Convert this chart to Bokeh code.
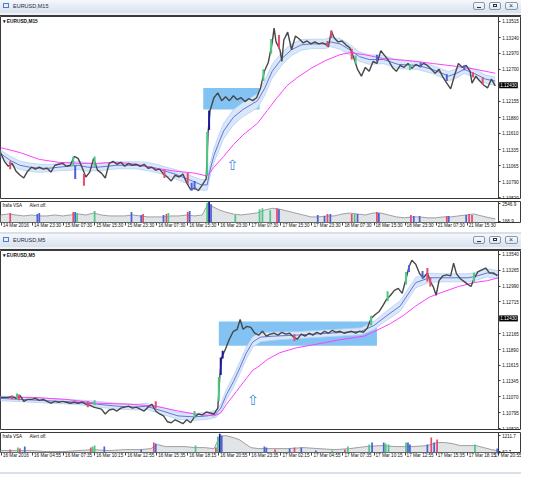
import numpy as np
from bokeh.plotting import figure
from bokeh.models import (ColumnDataSource, Range1d, FixedTicker, PrintfTickFormatter,
                          Label, Div, LinearAxis, CustomJSTickFormatter)
from bokeh.layouts import column
from bokeh.embed import file_html
from bokeh.resources import INLINE
from bokeh.core.properties import value

FONT = "Liberation Sans"
W = 521
XEND = 537      # bar units covered by the full pane width (price axis sits at bar 513)
AXIS_AT = 513
FS = "4.6px"

# ================= TOP CHART: EURUSD,M15 =================
top_x = [0,4,8,12,16,20,24,28,32,36,40,44,48,52,56,60,64,68,72,76,80,84,88,92,96,100,104,108,112,116,
         120,124,128,132,136,140,144,148,152,156,160,164,168,172,176,180,184,188,192,196,200,204,208,212,
         214,216,220,224,228,232,236,240,244,248,252,256,260,264,268,272,276,280,282,284,288,290,292,
         296,300,304,308,312,316,320,324,328,332,336,338,341,344,348,352,356,360,364,368,372,376,380,
         384,388,392,396,400,404,408,412,416,420,424,428,432,436,440,444,448,452,456,460,464,468,472,
         476,480,484,486,490,494,498,502,506,510]
top_close = [1.11285,1.11136,1.11052,1.11102,1.10969,1.10903,1.10853,1.10969,1.11036,1.11003,
             1.11036,1.11003,1.11019,1.10953,1.11069,1.11086,1.11102,1.11052,1.11069,1.11219,
             1.11186,1.11036,1.10869,1.10953,1.11186,1.10986,1.10936,1.10853,1.11102,1.11136,
             1.11086,1.11119,1.11052,1.11102,1.11069,1.11086,1.11052,1.11086,1.11019,1.11036,
             1.10986,1.11003,1.10919,1.10869,1.10803,1.10903,1.10869,1.10919,1.10770,1.10653,
             1.10686,1.10636,1.10736,1.10836,
             1.11635,1.12001,
             1.12217,1.12300,1.12167,1.12234,1.12167,1.12251,1.12184,1.12217,1.12151,1.12201,
             1.12167,1.12217,1.12384,1.12667,1.12816,1.13149,
             1.13399,1.13166,1.13033,1.12833,1.13199,
             1.13332,1.13033,1.13266,1.13216,1.13149,1.13182,1.13132,1.13166,1.13132,1.13149,1.13116,
             1.13083,1.13349,
             1.13232,1.13166,1.13182,1.13116,1.13066,1.12900,1.12700,1.12583,1.12733,1.12667,
             1.12833,1.12800,1.13016,1.12933,1.12850,1.12733,1.12667,1.12766,1.12733,1.12800,
             1.12716,1.12783,1.12750,1.12800,1.12766,1.12700,1.12633,1.12700,1.12567,1.12467,
             1.12367,1.12600,1.12800,1.12733,1.12766,1.12667,
             1.12467,1.12583,1.12500,1.12434,1.12384,1.12533,1.12417]

top_cx = [10,75,77,86,97,169,193,197,200,213,215,271,279,287,337,341,362,366,388,422,433,460,478,487,497]
top_clo = [1.11003,1.11069,1.10836,1.10720,1.11036,1.10853,1.10753,1.10636,1.10653,1.10886,1.11668,
           1.12500,1.12966,1.13049,1.13083,1.13232,1.12866,1.12800,1.12833,1.12683,1.12733,1.12500,
           1.12683,1.12567,1.12434]
top_chi = [1.11136,1.11219,1.11069,1.10919,1.11219,1.10986,1.10936,1.10770,1.10803,1.11635,1.12001,
           1.12700,1.13216,1.13282,1.13182,1.13365,1.13049,1.12933,1.12949,1.12783,1.12816,1.12617,
           1.12766,1.12650,1.12567]
top_ckind = ["dn","up","bl","dn","up","dn","dn","bl","bl","up","dk","up","up","dn","dn","dn","dn",
             "up","bl","up","bl","bl","bl","dn","dn"]

top_fast_x = [0,10,20,30,40,50,60,70,80,90,100,110,120,130,140,150,160,170,180,190,200,
              207,213,216,220,225,230,240,250,260,265,272,280,290,300,310,320,
              335,340,350,360,370,380,395,410,430,445,455,462,470,478,490,500,510]
top_fast = [1.11269,1.11152,1.11069,1.11036,1.11019,1.11019,1.11036,1.11052,1.11069,1.11036,
            1.11036,1.11052,1.11069,1.11069,1.11069,1.11052,1.11019,1.10969,1.10919,1.10853,1.10786,
            1.10736,1.10736,1.10986,1.11236,1.11452,1.11652,
            1.11884,1.12018,1.12117,1.12167,1.12367,1.12667,1.12883,1.13033,1.13116,1.13132,
            1.13132,1.13166,1.13132,1.13033,1.12916,1.12866,1.12866,1.12783,1.12766,1.12700,
            1.12633,1.12583,1.12633,1.12700,1.12617,1.12533,1.12500]
top_band = [0.0006,0.0007,0.0007,0.0007,0.0007,0.0006,0.0006,0.0007,0.0007,0.0007,
            0.0006,0.0006,0.0006,0.0006,0.0006,0.0007,0.0007,0.0007,0.0008,0.0008,0.0008,
            0.0009,0.0009,0.0010,0.0012,0.0013,0.0013,
            0.0013,0.0012,0.0012,0.0012,0.0012,0.0012,0.0011,0.0010,0.0009,0.0008,
            0.0008,0.0008,0.0009,0.0009,0.0008,0.0008,0.0007,0.0007,0.0007,0.0007,
            0.0007,0.0008,0.0008,0.0007,0.0007,0.0007,0.0007]
top_slow_x = [0,20,40,60,80,100,120,140,160,180,200,213,220,230,240,250,260,265,275,285,295,305,
              320,335,350,360,375,395,420,445,470,490,510]
top_slow = [1.11369,1.11285,1.11169,1.11119,1.11102,1.11102,1.11119,1.11086,1.11019,1.10969,1.10936,
            1.10886,1.11036,1.11219,1.11419,1.11585,1.11718,1.11785,1.12001,1.12217,1.12417,1.12550,
            1.12716,1.12850,1.12949,1.12983,1.12949,1.12883,1.12850,1.12800,1.12750,1.12700,1.12633]

top_box = dict(left=[209], right=[267], bottom=[1.12018], top=[1.12384])
top_arrow = dict(x=[239], y=[1.11069], t=["\u21e7"])
top_price_ticks = [1.10520,1.10790,1.11065,1.11335,1.11610,1.11880,1.12155,1.12700,1.12970,1.13240,1.13515]
top_last = 1.12430

top_vx = [0,8,16,24,32,40,48,56,64,72,80,88,96,104,112,120,128,136,144,152,160,168,176,184,192,200,208,
          214,218,222,226,232,240,248,256,264,272,280,288,296,304,312,320,328,336,344,352,360,368,376,
          384,392,400,408,416,424,432,440,448,456,464,472,480,488,496,504,510]
top_vol = [1004,1133,1004,876,1004,876,876,1004,876,1004,1133,1004,1261,1004,876,876,876,1004,876,747,
           747,747,876,876,1004,876,1004,2546,2161,1904,1647,1390,
           1133,1004,1133,1261,1647,1904,1775,1518,1261,1004,747,747,876,876,1133,1261,1133,1004,
           1261,1261,1004,747,619,747,747,619,619,747,747,876,1004,1133,876,619,490]
top_bx = [10,38,40,75,77,79,97,135,145,147,168,171,173,193,195,213,215,217,242,267,
          270,278,285,287,327,334,337,340,362,365,368,388,390,423,426,432,460,462,480,483,486]
top_bv = [1261,1133,1261,1390,1390,1261,1518,1390,1004,1133,1004,1133,1261,1390,1518,2650,2750,2418,1004,1775,
          1904,1647,1904,1775,1004,876,1133,1133,1133,1133,1133,1390,1261,1004,876,876,876,876,1004,1133,1004]
top_bkind = ["dn","bl","bl","dn","bl","up","up","bl","bl","dn","bl","dn","up","dn","bl","up","dk","bl","up","up",
             "up","up","dn","bl","bl","bl","dn","bl","dn","up","bl","dn","bl","dn","bl","bl","dn","bl","bl","dn","dn"]
top_vol_ticks = [168.9, 2546.9]
top_date_x = [1,33,65,97,129,161,193,225,257,289,321,353,385,417,449,481]
top_dates = ["14 Mar 2016","14 Mar 23:30","15 Mar 07:30","15 Mar 15:30","15 Mar 23:30","16 Mar 07:30",
             "16 Mar 15:30","16 Mar 23:30","17 Mar 07:30","17 Mar 15:30","17 Mar 23:30","18 Mar 07:30",
             "18 Mar 15:30","18 Mar 23:30","21 Mar 07:30","21 Mar 15:30"]

# ================= BOTTOM CHART: EURUSD,M5 =================
bot_x = [0,4,8,12,16,20,24,28,32,36,40,44,48,52,56,60,64,68,72,76,80,84,88,92,96,100,104,108,112,116,
         120,124,128,132,136,140,144,148,152,156,160,164,168,172,176,180,184,188,192,196,200,204,208,212,
         216,220,224,226,228,232,236,240,244,247,250,254,258,262,266,270,274,278,282,286,290,294,298,302,
         306,310,314,318,322,326,330,334,338,342,346,350,354,358,362,366,370,374,378,382,386,390,394,398,
         402,406,410,414,418,421,424,428,432,436,440,443,446,449,452,456,460,464,467,470,474,478,482,485,
         488,492,496,500,504,508,512]
bot_close = [1.11060,1.11060,1.11060,1.11077,1.11043,1.11094,1.10992,1.11026,1.11026,1.11043,
             1.11009,1.11026,1.10992,1.10959,1.10992,1.10976,1.10992,1.10976,1.10959,1.10976,
             1.10959,1.10976,1.10942,1.10925,1.10891,1.10874,1.10857,1.10773,1.10841,1.10857,
             1.10824,1.10874,1.10891,1.10908,1.10874,1.10891,1.10857,1.10824,1.10891,1.10942,
             1.10824,1.10773,1.10739,1.10638,1.10621,1.10672,1.10638,1.10604,1.10672,1.10621,
             1.10722,1.10773,1.10756,1.10807,1.10790,1.10773,1.10874,
             1.11414,1.11752,1.11903,1.12072,1.12207,1.12241,1.12410,1.12241,
             1.12292,1.12275,1.12173,1.12140,1.12207,1.12123,1.12157,1.12173,1.12140,1.12190,
             1.12157,1.12173,1.12106,1.12072,1.12157,1.12123,1.12173,1.12140,1.12190,1.12157,
             1.12207,1.12173,1.12224,1.12190,1.12207,1.12173,1.12190,1.12207,1.12173,1.12207,
             1.12190,1.12258,1.12427,1.12494,1.12545,1.12646,1.12764,1.12832,1.12916,1.12950,
             1.12865,1.13118,
             1.13321,
             1.13439,1.13371,1.13203,1.13135,1.13220,
             1.13068,1.12983,1.12832,
             1.13085,1.13169,1.13186,1.13169,
             1.13388,
             1.13203,1.13118,1.13068,1.13017,
             1.12983,
             1.13118,1.13236,1.13270,1.13304,1.13220,1.13220,1.13169]

bot_cx = [12,17,19,90,97,160,200,225,227,229,303,382,399,418,421,435,440,443,488]
bot_chi = [1.11094,1.11127,1.11111,1.10992,1.11009,1.10992,1.10824,1.11414,1.11752,1.11870,1.12157,
           1.12477,1.12900,1.13236,1.13354,1.13253,1.13304,1.13135,1.13220]
bot_clo = [1.11026,1.11043,1.11009,1.10891,1.10925,1.10874,1.10706,1.10992,1.11448,1.11735,1.12038,
           1.12308,1.12730,1.13017,1.13236,1.13118,1.13068,1.12983,1.13051]
bot_ckind = ["dn","up","dn","dn","up","dn","up","up","dk","dk","dn","up","up","up","bl","bl","dn","dn","up"]

bot_fast_x = [0,20,40,60,80,100,120,140,150,167,183,200,213,222,227,233,240,247,253,
              260,268,282,305,338,372,385,398,412,422,428,442,455,468,482,488,502,513]
bot_fast = [1.11043,1.11026,1.11009,1.10992,1.10976,1.10942,1.10908,1.10891,1.10908,
            1.10824,1.10739,1.10722,1.10739,1.10773,1.10874,1.11111,1.11330,1.11583,1.11819,
            1.12022,1.12106,1.12123,1.12140,1.12173,1.12207,1.12308,1.12477,1.12646,1.12900,
            1.13051,1.13135,1.13135,1.13135,1.13135,1.13152,1.13220,1.13186]
bot_band = [0.0004,0.0004,0.0004,0.0004,0.0004,0.0005,0.0005,0.0005,0.0005,
            0.0006,0.0006,0.0006,0.0006,0.0006,0.0007,
            0.0009,0.0010,0.0010,0.0010,0.0009,0.0008,
            0.0007,0.0006,0.0006,0.0006,
            0.0007,0.0008,0.0009,0.0009,0.0009,
            0.0008,0.0007,0.0007,0.0007,0.0007,0.0007,0.0007]
bot_slow_x = [0,33,67,100,133,160,183,200,220,227,233,243,253,260,265,275,288,305,322,348,375,388,
              402,415,428,442,455,472,488,502,513]
bot_slow = [1.11060,1.11060,1.11026,1.10959,1.10942,1.10908,1.10824,1.10773,1.10739,1.10790,1.10942,
            1.11161,1.11380,1.11532,1.11583,1.11718,1.11836,1.11920,1.11971,1.12055,1.12123,1.12224,
            1.12342,1.12477,1.12646,1.12798,1.12882,1.12983,1.13051,1.13085,1.13135]

bot_box = dict(left=[225], right=[388], bottom=[1.11954], top=[1.12376])
bot_arrow = dict(x=[260], y=[1.11009], t=["\u21e7"])
bot_price_ticks = [1.10520,1.10795,1.11070,1.11345,1.11615,1.11890,1.12165,1.12715,1.12990,1.13265,1.13540]
bot_last = 1.12430

bot_vx = [0,16,32,48,64,80,96,112,128,144,155,162,170,180,190,200,210,220,226,232,
          240,246,252,258,266,280,296,312,328,344,360,376,392,408,424,440,450,458,466,474,
          482,490,498,506,513]
bot_vol = [135,135,135,63,63,135,206,135,206,206,278,565,422,422,422,350,350,278,1140,1212,
           1068,924,637,350,278,278,278,350,278,206,278,422,494,422,422,494,709,709,637,494,
           494,494,350,206,135]
bot_bx = [10,18,20,25,93,95,97,107,145,158,160,201,222,224,226,228,272,274,283,298,
          303,310,325,342,355,358,380,383,395,397,400,418,420,422,440,444,447,450,489,512]
bot_bv = [206,350,278,422,350,422,494,422,206,709,637,494,350,1140,1341,1212,422,350,206,278,
          350,350,135,135,206,422,565,709,709,637,565,709,709,565,565,1068,709,924,565,278]
bot_bkind = ["dn","up","dn","bl","dn","up","up","bl","bl","dn","bl","up","dn","up","dk","bl","bl","bl","dn","bl",
             "dn","bl","bl","up","dn","up","up","bl","bl","up","up","up","bl","bl","bl","dn","bl","dn","up","bl"]
bot_vol_ticks = [62.7, 1211.7]
bot_date_x = [1,33,65,97,129,161,193,225,257,289,321,353,385,417,449,481,513]
bot_dates = ["16 Mar 2016","16 Mar 04:55","16 Mar 07:35","16 Mar 10:15","16 Mar 12:55","16 Mar 15:35",
             "16 Mar 18:15","16 Mar 20:55","16 Mar 23:35","17 Mar 02:15","17 Mar 04:55","17 Mar 07:35",
             "17 Mar 10:15","17 Mar 12:55","17 Mar 15:35","17 Mar 18:15","17 Mar 20:55"]

KIND_COL = {"up": "#4fc784", "dn": "#e64b6c", "bl": "#4b63d6", "dk": "#1b1b96"}
CHAR_W = {" ": 0.278, ":": 0.278, ".": 0.278, "M": 0.833, "a": 0.556, "r": 0.333}


def text_w(s, fs):
    return sum(CHAR_W.get(c, 0.556) for c in s) * fs


def title_div(name, h, gap):
    bt = gap
    html = f"""
<div style="position:relative;width:{W}px;height:{h}px;background:#d9e0e8;overflow:hidden;font-family:'Liberation Sans',sans-serif;">
 <div style="position:absolute;left:0;top:{bt}px;width:{W}px;height:13px;background:linear-gradient(#f5f8fc,#d8e1ed);"></div>
 <div style="position:absolute;left:0;top:{bt+13}px;width:{W}px;height:{h-bt-14}px;background:#eef1f5;"></div>
 <div style="position:absolute;left:3px;top:{bt+3}px;width:6px;height:5px;border:1px solid #4a7dd0;background:#e6effb;"></div>
 <div style="position:absolute;left:13px;top:{bt+3}px;font-size:5.5px;line-height:7px;color:#1d2b3f;">{name}</div>
 <div style="position:absolute;left:473px;top:{bt+2}px;width:12px;height:8px;border:1px solid #8797ad;border-radius:2px;background:linear-gradient(#fafbfd,#dde4ee);"></div>
 <div style="position:absolute;left:477px;top:{bt+7}px;width:4px;height:1px;background:#333;"></div>
 <div style="position:absolute;left:489px;top:{bt+2}px;width:12px;height:8px;border:1px solid #8797ad;border-radius:2px;background:linear-gradient(#fafbfd,#dde4ee);"></div>
 <div style="position:absolute;left:493px;top:{bt+4}px;width:4px;height:3px;border:1px solid #333;"></div>
 <div style="position:absolute;left:505px;top:{bt+2}px;width:13px;height:8px;border:1px solid #8797ad;border-radius:2px;background:linear-gradient(#fafbfd,#dde4ee);"></div>
 <div style="position:absolute;left:509px;top:{bt+1}px;font-size:7px;line-height:10px;color:#333;">\u00d7</div>
 <div style="position:absolute;left:0;top:{h-1}px;width:{W}px;height:1px;background:#3c3c3c;"></div>
</div>"""
    return Div(text=html, width=W, height=h, margin=(0, 0, 0, 0))


def bar_div(h, color):
    return Div(text=f'<div style="width:{W}px;height:{h}px;background:{color};"></div>',
               width=W, height=h, margin=(0, 0, 0, 0))


def style_right_axis(ax, ticks, fmt):
    ax.fixed_location = AXIS_AT
    ax.ticker = FixedTicker(ticks=ticks)
    ax.formatter = PrintfTickFormatter(format=fmt)
    ax.major_label_text_font = FONT
    ax.major_label_text_font_size = FS
    ax.major_label_text_color = "#111111"
    ax.major_tick_out = 2
    ax.major_tick_in = 0
    ax.minor_tick_out = 0
    ax.minor_tick_in = 0
    ax.axis_line_color = "#3a3a3a"
    ax.major_tick_line_color = "#3a3a3a"
    ax.major_label_standoff = 2


def base_fig(h, yr, bottom_border):
    p = figure(width=W, height=h, x_range=Range1d(0, XEND), y_range=Range1d(*yr),
               output_backend="svg", toolbar_location=None,
               x_axis_location="below" if bottom_border else None,
               y_axis_location="right", min_border_left=0, min_border_top=0,
               min_border_bottom=bottom_border, min_border_right=0)
    p.grid.visible = False
    p.outline_line_color = "#3a3a3a"
    p.background_fill_color = "white"
    p.border_fill_color = "white"
    return p


def price_fig(h, yr, xs, close, cx, clo, chi, ckind, fx, fast, band, sx, slow,
              box, arrow, ticks, last, name):
    p = base_fig(h, yr, 0)
    style_right_axis(p.yaxis[0], ticks, "%.5f")

    p.quad(left="left", right="right", bottom="bottom", top="top",
           source=ColumnDataSource(box), fill_color="#82c3f3", line_color=None)

    f = np.array(fast)
    b = np.array(band)
    bs = ColumnDataSource(dict(x=fx, m=f, lo=f - b, hi=f + b))
    p.varea(x="x", y1="lo", y2="hi", source=bs, fill_color="#d8e8fa", fill_alpha=1.0)
    p.line(x="x", y="lo", source=bs, line_color="#b5d1f1", line_width=0.8)
    p.line(x="x", y="hi", source=bs, line_color="#b5d1f1", line_width=0.8)
    p.line(x="x", y="m", source=bs, line_color="#6a72d6", line_width=1)
    p.line(x=sx, y=slow, line_color="#ff40ff", line_width=1)

    p.line(x=xs, y=close, line_color="#474747", line_width=1.4)
    cs = ColumnDataSource(dict(x=cx, lo=clo, hi=chi, c=[KIND_COL[k] for k in ckind]))
    p.segment(x0="x", y0="lo", x1="x", y1="hi", source=cs, line_color="c", line_width=2)

    p.text(x="x", y="y", text="t", source=ColumnDataSource(arrow), text_font=value("DejaVu Sans"),
           text_font_size="14px", text_color="#3b8ddd", text_align="center", text_baseline="middle")

    p.add_layout(Label(x=0, y=yr[1], x_offset=2, y_offset=-2, text="\u25be " + name,
                       text_baseline="top", text_font=FONT, text_font_size="4.8px",
                       text_color="#111111", text_font_style="bold"))
    lab = Label(x=AXIS_AT, y=last, x_offset=1, text=f"{last:.5f}", text_baseline="middle",
                text_font=FONT, text_font_size=FS, text_color="white",
                background_fill_color="black")
    if "padding" in lab.properties():
        lab.padding = 1
    p.add_layout(lab)
    return p


def vol_fig(h, yr, vx, vol, bx, bv, bkind, ticks, date_x, dates):
    p = base_fig(h, yr, 10)
    style_right_axis(p.yaxis[0], ticks, "%.1f")
    # axis 1: the tick marks of the time scale
    xa = p.xaxis[0]
    xa.ticker = FixedTicker(ticks=date_x)
    xa.formatter = CustomJSTickFormatter(code="return ''")
    xa.major_label_text_font_size = "1px"
    xa.major_label_standoff = 0
    xa.axis_line_color = None
    xa.major_tick_out = 3
    xa.major_tick_in = 0
    xa.minor_tick_out = 0
    xa.minor_tick_in = 0
    xa.major_tick_line_color = "#444444"
    # axis 2: the time labels, which start just right of each tick mark
    px_per_bar = W / XEND
    centers = [x + (text_w(s, 4.6) / 2 + 1.5) / px_per_bar for x, s in zip(date_x, dates)]
    xb = LinearAxis(ticker=FixedTicker(ticks=centers),
                    formatter=CustomJSTickFormatter(args=dict(pos=centers, lab=dates), code="""
                        let best = 0, d = 1e9;
                        for (let i = 0; i < pos.length; i++) {
                            const e = Math.abs(pos[i] - tick);
                            if (e < d) { d = e; best = i; }
                        }
                        return lab[best];"""))
    xb.axis_line_color = None
    xb.major_tick_line_color = None
    xb.minor_tick_line_color = None
    xb.major_tick_out = 0
    xb.major_tick_in = 0
    xb.major_label_standoff = -3
    xb.major_label_text_font = FONT
    xb.major_label_text_font_size = FS
    xb.major_label_text_color = "#111111"
    p.add_layout(xb, "below")

    p.varea(x=vx, y1=[yr[0]] * len(vx), y2=vol, fill_color="#e2e5e8")
    p.line(x=vx, y=vol, line_color="#8a8a8a", line_width=0.8)
    bs = ColumnDataSource(dict(x=bx, v=bv, c=[KIND_COL[k] for k in bkind]))
    p.vbar(x="x", top="v", bottom=yr[0], width=1.8, source=bs, fill_color="c", line_color=None)

    p.add_layout(Label(x=0, y=yr[1], x_offset=2, y_offset=-1.5, text="frafa VSA",
                       text_baseline="top", text_font=FONT, text_font_size=FS, text_color="#111"))
    p.add_layout(Label(x=0, y=yr[1], x_offset=29, y_offset=-1.5, text="Alert off.",
                       text_baseline="top", text_font=FONT, text_font_size=FS, text_color="#111"))
    return p


t1 = title_div("EURUSD,M15", 16, 0)
p1 = price_fig(183, (1.10487, 1.13598), top_x, top_close, top_cx, top_clo, top_chi, top_ckind,
               top_fast_x, top_fast, top_band, top_slow_x, top_slow, top_box, top_arrow,
               top_price_ticks, top_last, "EURUSD,M15")
s1 = bar_div(2, "#6b6b6b")
v1 = vol_fig(31, (0, 2800), top_vx, top_vol, top_bx, top_bv, top_bkind, top_vol_ticks,
             top_date_x, top_dates)

t2 = title_div("EURUSD,M5", 18, 2)
p2 = price_fig(180, (1.10486, 1.13608), bot_x, bot_close, bot_cx, bot_clo, bot_chi, bot_ckind,
               bot_fast_x, bot_fast, bot_band, bot_slow_x, bot_slow, bot_box, bot_arrow,
               bot_price_ticks, bot_last, "EURUSD,M5")
s2 = bar_div(2, "#6b6b6b")
v2 = vol_fig(30, (0, 1430), bot_vx, bot_vol, bot_bx, bot_bv, bot_bkind, bot_vol_ticks,
             bot_date_x, bot_dates)
foot = bar_div(2, "#d9e0e8")

layout = column(t1, p1, s1, v1, t2, p2, s2, v2, foot, spacing=0)
open("out.html", "w").write(file_html(layout, INLINE, title="EURUSD"))
